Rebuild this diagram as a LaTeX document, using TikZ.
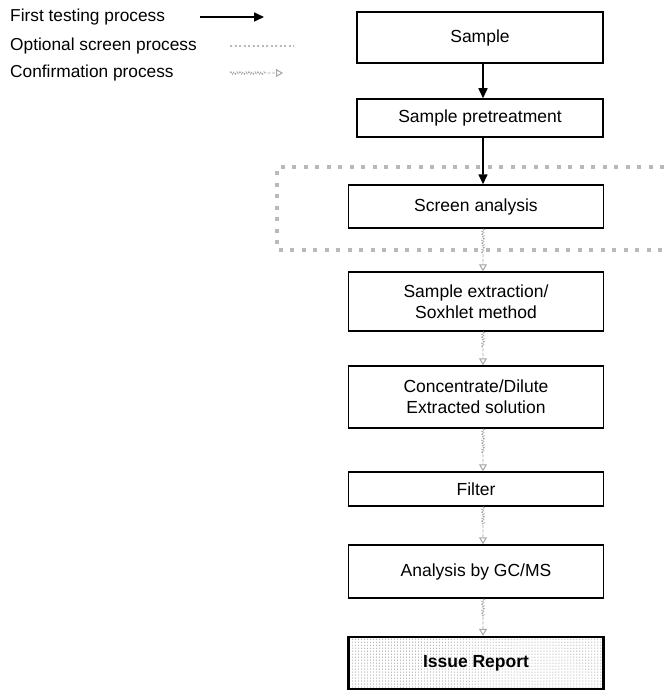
\documentclass[tikz,border=0pt]{standalone}
\usepackage{fontspec}
\setmainfont{Liberation Sans}
\usetikzlibrary{arrows.meta,decorations.pathmorphing,patterns}
\begin{document}
\begin{tikzpicture}[x=1bp,y=-1bp,
  box/.style={draw, line width=1.5bp, minimum width=255bp, inner sep=0pt, align=center, font=\fontsize{17.5bp}{21bp}\selectfont},
  lbl/.style={anchor=west, inner sep=0pt, font=\fontsize{17.3bp}{20bp}\selectfont},
  first/.style={line width=1.6bp, -{Triangle[length=10bp,width=9bp]}},
  confirm/.style={draw=gray!70, line width=0.8bp, dash pattern=on 3bp off 1.5bp,
    -{Triangle[open,length=7bp,width=8bp,line width=1bp]},
    decorate, decoration={snake, amplitude=1.3bp, segment length=3bp, post length=18bp}},
  screenline/.style={draw=gray!55, line width=3.2bp, dash pattern=on 4bp off 7.5bp},
  legscreen/.style={draw=gray!55, line width=2bp, dash pattern=on 2bp off 2.5bp}
]
\useasboundingbox (0,0) rectangle (664,690);

% legend
\node[lbl] (t1) at (10,17) {First testing process};
\node[lbl] (t2) at (10,46) {Optional screen process};
\node[lbl] (t3) at (10,73) {Confirmation process};
\coordinate (a1) at (200,17); \coordinate (b1) at (264,17);
\coordinate (a2) at (230,46); \coordinate (b2) at (294,46);
\coordinate (a3) at (230,73); \coordinate (b3) at (283,73);
\draw[first] (a1) -- (b1);
\draw[legscreen] (a2) -- (b2);
\draw[confirm] (a3) -- (b3);

% optional screen region
\draw[screenline] (664,167) -- (277,167) -- (277,250) -- (664,250);

% boxes
\node[box, minimum width=246bp, minimum height=51bp] (sample) at (480,37.5) {Sample};
\node[box, minimum width=246bp, minimum height=38bp] (pre) at (480,118) {Sample pretreatment};
\node[box, minimum height=43bp, fill=white] (screen) at (476,206.5) {Screen analysis};
\node[box, minimum height=59bp] (extr) at (476,301.5) {Sample extraction/\\Soxhlet method};
\node[box, minimum height=62bp] (conc) at (476,397) {Concentrate/Dilute\\Extracted solution};
\node[box, minimum height=34bp] (filter) at (476,489) {Filter};
\node[box, minimum height=53bp] (gcms) at (476,571.5) {Analysis by GC/MS};
\node[box, line width=2.2bp, minimum height=52bp, pattern=dots, pattern color=gray, font=\fontsize{17.5bp}{21bp}\selectfont\bfseries] (issue) at (476,663) {Issue Report};

% connectors
\draw[first] ([xshift=3bp]sample.south) -- ([xshift=3bp]pre.north);
\draw[first] ([xshift=3bp]pre.south) -- ([xshift=7bp]screen.north);
\draw[confirm] ([xshift=7bp]screen.south) -- ([xshift=7bp]extr.north);
\draw[confirm] ([xshift=7bp]extr.south) -- ([xshift=7bp]conc.north);
\draw[confirm] ([xshift=7bp]conc.south) -- ([xshift=7bp]filter.north);
\draw[confirm] ([xshift=7bp]filter.south) -- ([xshift=7bp]gcms.north);
\draw[confirm] ([xshift=7bp]gcms.south) -- ([xshift=7bp]issue.north);
\end{tikzpicture}
\end{document}
